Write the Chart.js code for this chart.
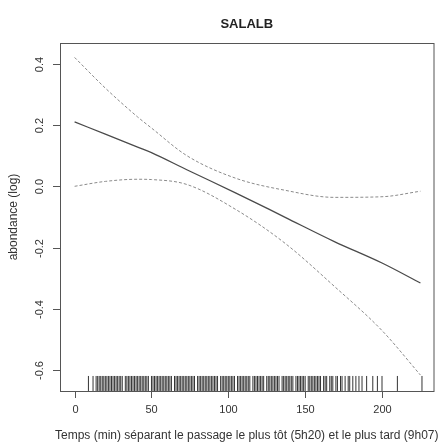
<!DOCTYPE html>
<html>
<head>
<meta charset="utf-8">
<script src="https://cdn.jsdelivr.net/npm/chart.js@4.4.0/dist/chart.umd.min.js"></script>
<style>
  html, body { margin: 0; padding: 0; background: #fff; }
  #box { width: 442px; height: 448px; }
</style>
</head>
<body>
<div id="box"><canvas id="salalbChart" width="442" height="448"></canvas></div>
<script>
// values
const chartTitle = 'SALALB';
const xTitle = 'Temps (min) séparant le passage le plus tôt (5h20) et le plus tard (9h07)';
const yTitle = 'abondance (log)';

const xTicks = [0, 50, 100, 150, 200];
const yTicks = [-0.6, -0.4, -0.2, 0.0, 0.2, 0.4];
const yTickLabels = ['-0.6', '-0.4', '-0.2', '0.0', '0.2', '0.4'];

const fitX     = [0, 20, 41, 50, 73, 105, 137, 169, 200, 225];
const fitMain  = [0.21, 0.170, 0.128, 0.110, 0.054, -0.022, -0.101, -0.180, -0.250, -0.315];
const fitUpper = [0.42, 0.320, 0.226, 0.190, 0.100, 0.026, -0.013, -0.036, -0.034, -0.016];
const fitLower = [0.0, 0.016, 0.023, 0.022, 0.006, -0.076, -0.186, -0.326, -0.470, -0.615];

// observation times (rug)
const rugTimes = [9, 12, 14, 15, 16, 17, 18, 19, 20, 21, 22, 23, 24, 25, 26, 27, 28, 29, 30, 31,
    33, 34, 35, 36, 37, 38, 39, 40, 41, 42, 43, 44, 45, 46, 47, 48, 50, 51, 52, 53, 54, 55, 56,
    57, 58, 59, 60, 61, 62, 63, 65, 66, 67, 68, 69, 70, 71, 72, 73, 74, 75, 76, 77, 78, 80, 81,
    82, 83, 84, 85, 86, 87, 88, 89, 90, 91, 92, 93, 95, 96, 97, 98, 99, 100, 101, 102, 103, 104,
    106, 107, 108, 109, 110, 111, 112, 113, 114, 116, 117, 118, 119, 120, 121, 122, 123, 125,
    126, 127, 128, 129, 130, 131, 132, 133, 135, 136, 137, 138, 139, 140, 141, 142, 144, 145,
    146, 147, 148, 149, 150, 152, 153, 154, 155, 156, 157, 158, 159, 160, 162, 163, 164, 166,
    167, 168, 170, 171, 173, 174, 176, 178, 179, 181, 183, 185, 187, 190, 194, 197, 200, 210, 226];

const X_MIN = -9.5, X_MAX = 233.5;
const Y_MIN = -0.667, Y_MAX = 0.467;

const toPoints = (ys) => fitX.map((x, i) => ({ x: x, y: ys[i] }));

// R-like box, ticks and labels, positioned through the chart scales
const rAxes = {
    id: 'rAxes',
    afterDraw: function(chart) {
        const ctx = chart.ctx;
        const area = chart.chartArea;
        const xs = chart.scales.x;
        const ys = chart.scales.y;
        ctx.save();
        ctx.strokeStyle = '#555';
        ctx.fillStyle = '#333';
        ctx.lineWidth = 1;

        ctx.strokeRect(area.left + 0.5, area.top + 0.5, area.right - area.left, area.bottom - area.top);

        // x axis
        ctx.font = '11px "Liberation Sans", Arial, sans-serif';
        ctx.textAlign = 'center';
        ctx.textBaseline = 'middle';
        xTicks.forEach(v => {
            const px = Math.round(xs.getPixelForValue(v)) + 0.5;
            ctx.beginPath();
            ctx.moveTo(px, area.bottom);
            ctx.lineTo(px, area.bottom + 7);
            ctx.stroke();
            ctx.fillText(String(v), px, area.bottom + 19);
        });

        // y axis, labels parallel to the axis
        yTicks.forEach((v, i) => {
            const py = Math.round(ys.getPixelForValue(v)) + 0.5;
            ctx.beginPath();
            ctx.moveTo(area.left - 7, py);
            ctx.lineTo(area.left, py);
            ctx.stroke();
            ctx.save();
            ctx.translate(area.left - 20, py);
            ctx.rotate(-Math.PI / 2);
            ctx.fillText(yTickLabels[i], 0, 0);
            ctx.restore();
        });

        ctx.font = '12px "Liberation Sans", Arial, sans-serif';
        ctx.fillText(xTitle, (area.left + area.right) / 2, area.bottom + 45);
        ctx.save();
        ctx.translate(14, (area.top + area.bottom) / 2);
        ctx.rotate(-Math.PI / 2);
        ctx.fillText(yTitle, 0, 0);
        ctx.restore();

        ctx.font = 'bold 13px "Liberation Sans", Arial, sans-serif';
        ctx.fillStyle = '#222';
        ctx.fillText(chartTitle, (area.left + area.right) / 2, 24);
        ctx.restore();
    }
};

const ctx = document.getElementById('salalbChart').getContext('2d');
new Chart(ctx, {
    type: 'scatter',
    data: {
        datasets: [
            {
                label: 'fit',
                type: 'line',
                data: toPoints(fitMain),
                borderColor: '#4a4a4a',
                borderWidth: 1.3,
                pointRadius: 0,
                tension: 0.4,
                cubicInterpolationMode: 'monotone'
            },
            {
                label: 'upper',
                type: 'line',
                data: toPoints(fitUpper),
                borderColor: '#8a8a8a',
                borderWidth: 1,
                borderDash: [3, 2],
                pointRadius: 0,
                tension: 0.4,
                cubicInterpolationMode: 'monotone'
            },
            {
                label: 'lower',
                type: 'line',
                data: toPoints(fitLower),
                borderColor: '#8a8a8a',
                borderWidth: 1,
                borderDash: [3, 2],
                pointRadius: 0,
                tension: 0.4,
                cubicInterpolationMode: 'monotone'
            },
            {
                label: 'rug',
                data: rugTimes.map(t => ({ x: t, y: Y_MIN + 0.0245 })),
                pointStyle: 'line',
                rotation: 90,
                radius: 7.5,
                borderColor: 'rgba(30,30,30,0.9)',
                borderWidth: 1
            }
        ]
    },
    options: {
        responsive: false,
        devicePixelRatio: 1,
        animation: false,
        layout: { padding: { left: 60, top: 43, right: 1, bottom: 57 } },
        plugins: { legend: { display: false }, tooltip: { enabled: false } },
        scales: {
            x: { type: 'linear', min: X_MIN, max: X_MAX, display: false },
            y: { type: 'linear', min: Y_MIN, max: Y_MAX, display: false }
        }
    },
    plugins: [rAxes]
});
</script>
</body>
</html>
